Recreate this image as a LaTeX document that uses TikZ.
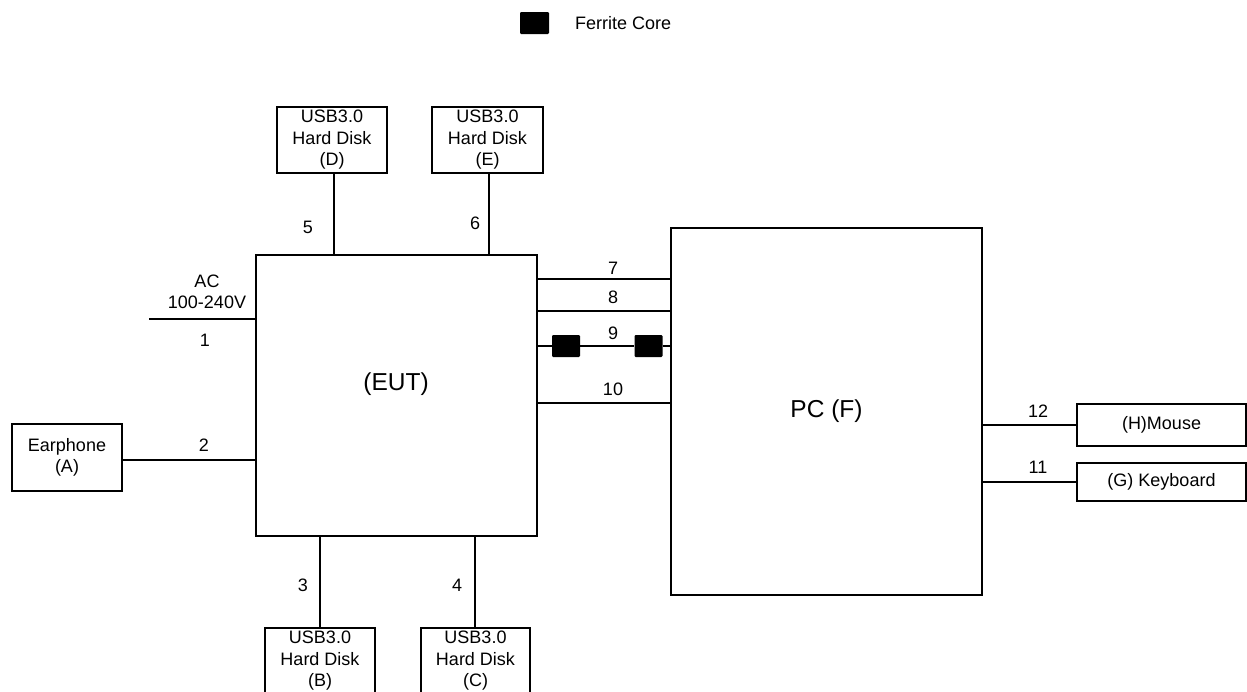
\documentclass[tikz,border=0pt]{standalone}
\usepackage{fontspec}
\setmainfont{Liberation Sans}
\begin{document}
\begin{tikzpicture}[x=1pt,y=-1pt,
  lw/.style={line width=1.8pt},
  txt/.style={font=\fontsize{18}{21.5}\selectfont, inner sep=0pt, align=center},
  big/.style={font=\fontsize{24.5}{28}\selectfont, inner sep=0pt},
  devbox/.style={draw, lw, txt, minimum width=#1},
  core/.style={fill=black, rounded corners=1.2pt, minimum width=28pt, minimum height=22pt, inner sep=0pt},
  num/.style={txt}
]
\useasboundingbox (0,0) rectangle (1247,691);
% legend
\node[core, minimum width=29pt] (leg) at (534.5,23) {};
\node[txt, anchor=west] (legt) at (575,23) {Ferrite Core};
% main boxes
\node[draw, lw, minimum width=281pt, minimum height=281pt, inner sep=0pt] (EUT) at (396.5,395.5) {};
\node[big] (eutl) at (396,384) {(EUT)};
\node[draw, lw, minimum width=311pt, minimum height=367pt, inner sep=0pt] (PC) at (826.5,411.5) {};
\node[big] (pcl) at (826.5,411) {PC (F)};
% peripheral boxes
\node[devbox=110pt, minimum height=66pt] (D) at (332,140) {USB3.0\\Hard Disk\\(D)};
\node[devbox=111pt, minimum height=66pt] (E) at (487.5,140) {USB3.0\\Hard Disk\\(E)};
\node[devbox=110pt, minimum height=66pt] (B) at (320,661) {USB3.0\\Hard Disk\\(B)};
\node[devbox=109pt, minimum height=66pt] (C) at (475.5,661) {USB3.0\\Hard Disk\\(C)};
\node[devbox=110pt, minimum height=67pt] (A) at (67,457.5) {Earphone\\(A)};
\node[devbox=169pt, minimum height=42pt] (H) at (1161.5,425) {(H)Mouse};
\node[devbox=169pt, minimum height=38pt] (G) at (1161.5,482) {(G) Keyboard};
% AC
\coordinate (acend) at (149,319);
\node[txt] (acl) at (207,292) {AC\\100-240V};
\draw[lw] (acend) -- (EUT.west |- acend);
\node[num] (n1) at (205,340) {1};
% earphone
\draw[lw] (A.east |- 0,460) -- (EUT.west |- 0,460);
\node[num] (n2) at (204,445) {2};
% top disks
\draw[lw] ([xshift=2pt]D.south) -- ([xshift=2pt]D.south |- EUT.north);
\node[num] (n5) at (308,227) {5};
\draw[lw] ([xshift=1.5pt]E.south) -- ([xshift=1.5pt]E.south |- EUT.north);
\node[num] (n6) at (475,223) {6};
% bottom disks
\draw[lw] (B.north) -- (B.north |- EUT.south);
\node[num] (n3) at (303,585) {3};
\draw[lw] ([xshift=-0.5pt]C.north) -- ([xshift=-0.5pt]C.north |- EUT.south);
\node[num] (n4) at (457,585) {4};
% EUT to PC
\draw[lw] (EUT.east |- 0,279) -- (PC.west |- 0,279);
\node[num] (n7) at (613,268) {7};
\draw[lw] (EUT.east |- 0,311) -- (PC.west |- 0,311);
\node[num] (n8) at (613,297) {8};
\node[core] (fc1) at (566,346) {};
\node[core] (fc2) at (648.5,346) {};
\draw[lw] (EUT.east |- fc1) -- (fc1) -- (fc2) -- (PC.west |- fc2);
\node[num] (n9) at (613,333) {9};
\draw[lw] (EUT.east |- 0,403) -- (PC.west |- 0,403);
\node[num] (n10) at (613,389) {10};
% PC to peripherals
\draw[lw] (PC.east |- H.west) -- (H.west);
\node[num] (n12) at (1038,411) {12};
\draw[lw] (PC.east |- G.west) -- (G.west);
\node[num] (n11) at (1038,467) {11};
\end{tikzpicture}
\end{document}
